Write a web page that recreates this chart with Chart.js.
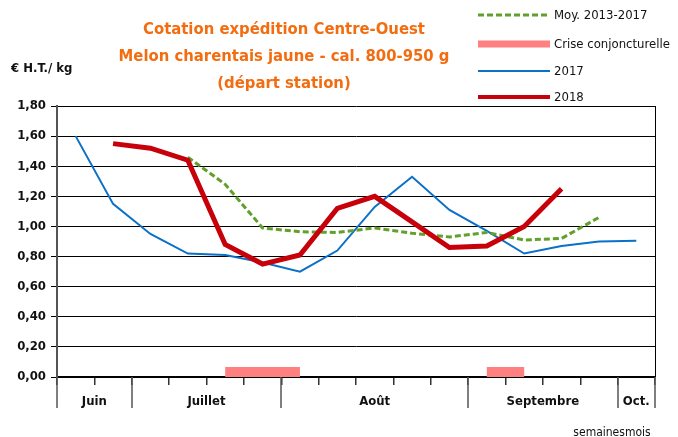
<!DOCTYPE html>
<html>
<head>
<meta charset="utf-8">
<script src="https://cdn.jsdelivr.net/npm/chart.js@4.4.0/dist/chart.umd.min.js"></script>
<style>
  body { margin: 0; background: #fff; }
  canvas { display: block; }
</style>
</head>
<body>
<canvas id="melonChart" width="678" height="437"></canvas>
<script>
// weeks 25..40, grouped by month below the axis
const weeks = ['S25', 'S26', 'S27', 'S28', 'S29', 'S30', 'S31', 'S32', 'S33', 'S34', 'S35', 'S36', 'S37', 'S38', 'S39', 'S40'];
const months = ['Juin', 'Juillet', 'Août', 'Septembre', 'Oct.'];
const monthWeeks = [2, 4, 5, 4, 1];

const moyenne = [null, null, null, 1.46, 1.28, 0.99, 0.965, 0.96, 0.99, 0.955, 0.93, 0.96, 0.91, 0.92, 1.06, null];
const crise = [null, null, null, null, 0.033, 0.033, 0.033, null, null, null, null, 0.033, 0.033, null, null, null];
const prix2017 = [1.60, 1.15, 0.95, 0.82, 0.81, 0.76, 0.70, 0.84, 1.13, 1.33, 1.11, 0.97, 0.82, 0.87, 0.90, 0.905];
const prix2018 = [null, 1.55, 1.52, 1.44, 0.88, 0.75, 0.81, 1.12, 1.20, 1.03, 0.86, 0.87, 1.00, 1.25, null, null];

const yMin = 0, yMax = 1.8, yStep = 0.2;
const titleLines = ['Cotation expédition Centre-Ouest', 'Melon charentais jaune - cal. 800-950 g', '(départ station)'];
const unitLabel = '€ H.T./ kg';
const footLabel = 'semainesmois';

const FONT = "'DejaVu Sans Condensed', 'DejaVu Sans', sans-serif";

const decor = {
    id: 'decor',
    afterDraw(chart) {
        const { ctx, chartArea: a, scales: { x } } = chart;
        ctx.save();

        // right frame
        ctx.strokeStyle = '#000';
        ctx.lineWidth = 1;
        ctx.beginPath();
        ctx.moveTo(Math.round(a.right) + 0.5, a.top);
        ctx.lineTo(Math.round(a.right) + 0.5, a.bottom);
        ctx.stroke();

        // month separators + labels
        const step = x.width / weeks.length;
        const edgeX = i => x.getPixelForValue(0) - step / 2 + i * step;
        ctx.strokeStyle = '#555';
        ctx.lineWidth = 1.5;
        ctx.fillStyle = '#111';
        ctx.font = 'bold 13px ' + FONT;
        ctx.textAlign = 'center';
        ctx.textBaseline = 'middle';
        let start = 0;
        const drawSep = i => {
            const px = Math.round(edgeX(i));
            ctx.beginPath();
            ctx.moveTo(px, a.bottom);
            ctx.lineTo(px, a.bottom + 31);
            ctx.stroke();
        };
        drawSep(0);
        months.forEach((m, k) => {
            const end = start + monthWeeks[k];
            drawSep(end);
            ctx.fillText(m, (edgeX(start) + edgeX(end)) / 2, a.bottom + 25);
            start = end;
        });

        // title
        ctx.fillStyle = '#F36D10';
        ctx.font = 'bold 16.5px ' + FONT;
        ctx.textBaseline = 'alphabetic';
        titleLines.forEach((t, i) => ctx.fillText(t, 284, 34 + i * 27));

        // unit
        ctx.fillStyle = '#111';
        ctx.font = 'bold 13px ' + FONT;
        ctx.textAlign = 'left';
        ctx.fillText(unitLabel, 11, 72);

        // footer
        ctx.font = '12px ' + FONT;
        ctx.textAlign = 'center';
        ctx.fillText(footLabel, 612, 436);

        // legend
        const rows = [15, 44, 71, 97];
        const legendWidth = [3, 7, 2, 4];
        ctx.font = '13px ' + FONT;
        ctx.textAlign = 'left';
        ctx.textBaseline = 'middle';
        chart.data.datasets.forEach((ds, i) => {
            ctx.strokeStyle = ds.borderColor;
            ctx.lineWidth = legendWidth[i];
            ctx.setLineDash(ds.borderDash || []);
            ctx.lineCap = 'butt';
            ctx.beginPath();
            ctx.moveTo(478, rows[i]);
            ctx.lineTo(550, rows[i]);
            ctx.stroke();
            ctx.setLineDash([]);
            ctx.fillStyle = '#111';
            ctx.fillText(ds.label, 554, rows[i] + 1);
        });

        ctx.restore();
    }
};

new Chart(document.getElementById('melonChart'), {
    type: 'line',
    data: {
        labels: weeks,
        datasets: [
            {
                label: 'Moy. 2013-2017',
                data: moyenne,
                borderColor: '#62A02C',
                borderWidth: 3,
                borderDash: [6, 3],
                order: 1
            },
            {
                label: 'Crise conjoncturelle',
                data: crise,
                borderColor: '#FF8080',
                borderWidth: 10,
                borderCapStyle: 'butt',
                order: 3
            },
            {
                label: '2017',
                data: prix2017,
                borderColor: '#0A70C8',
                borderWidth: 2,
                order: 2
            },
            {
                label: '2018',
                data: prix2018,
                borderColor: '#C8000A',
                borderWidth: 5,
                order: 0
            }
        ]
    },
    options: {
        responsive: false,
        animation: false,
        spanGaps: false,
        elements: { point: { radius: 0 }, line: { tension: 0 } },
        layout: { padding: { top: 106, right: 23, bottom: 60, left: 0 } },
        plugins: { legend: { display: false }, title: { display: false }, tooltip: { enabled: false } },
        scales: {
            x: {
                offset: true,
                ticks: { display: false },
                grid: { display: true, drawOnChartArea: false, offset: true, tickLength: 8, color: '#333', lineWidth: 1.5 },
                border: { display: true, color: '#000', width: 2 },
                afterFit: s => { s.height = 0; }
            },
            y: {
                min: yMin,
                max: yMax,
                ticks: {
                    stepSize: yStep,
                    padding: 5,
                    color: '#111',
                    font: { family: FONT, size: 13, weight: 'bold' },
                    callback: v => v.toFixed(2).replace('.', ',')
                },
                grid: { color: '#000', lineWidth: 1, tickLength: 6 },
                border: { display: true, color: '#555', width: 2 },
                afterFit: s => { s.width = 57; }
            }
        }
    },
    plugins: [decor]
});
</script>
</body>
</html>
